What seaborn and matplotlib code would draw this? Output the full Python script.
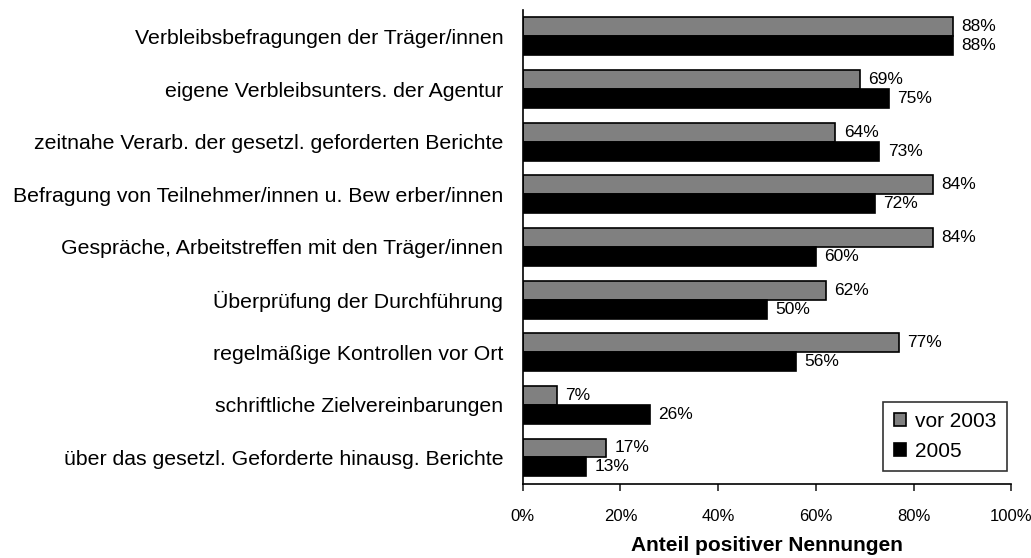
import pandas as pd
import matplotlib.pyplot as plt
import matplotlib.ticker as mticker
import seaborn as sns

# Data
categories = [
    'Verbleibsbefragungen der Träger/innen',
    'eigene Verbleibsunters. der Agentur',
    'zeitnahe Verarb. der gesetzl. geforderten Berichte',
    'Befragung von Teilnehmer/innen u. Bew erber/innen',
    'Gespräche, Arbeitstreffen mit den Träger/innen',
    'Überprüfung der Durchführung',
    'regelmäßige Kontrollen vor Ort',
    'schriftliche Zielvereinbarungen',
    'über das gesetzl. Geforderte hinausg. Berichte',
]
vor_2003 = [88, 69, 64, 84, 84, 62, 77, 7, 17]
jahr_2005 = [88, 75, 73, 72, 60, 50, 56, 26, 13]
series_names = ['vor 2003', '2005']

df = pd.DataFrame({
    'Kategorie': categories * 2,
    'Wert': vor_2003 + jahr_2005,
    'Zeitraum': [series_names[0]] * len(categories) + [series_names[1]] * len(categories),
})

sns.set_style('white')
plt.rcParams['font.family'] = ['Liberation Sans', 'DejaVu Sans']

fig = plt.figure(figsize=(10.31, 5.58), dpi=100)
ax = fig.add_axes([0.507, 0.133, 0.474, 0.849])

sns.barplot(data=df, y='Kategorie', x='Wert', hue='Zeitraum', orient='h',
            palette=['#808080', '#000000'], width=0.72, saturation=1,
            edgecolor='black', linewidth=1.2, ax=ax)

for cont in ax.containers:
    ax.bar_label(cont, fmt='%d%%', padding=6, fontsize=12.5, color='black')

ax.set_xlim(0, 100)
ax.xaxis.set_major_locator(mticker.MultipleLocator(20))
ax.xaxis.set_major_formatter(mticker.FuncFormatter(lambda v, p: f'{v:.0f}%'))
ax.tick_params(axis='x', direction='out', length=5, width=1.2, labelsize=12,
               pad=13, bottom=True, labelcolor='black')
ax.tick_params(axis='y', length=0, labelsize=15.3, pad=14, labelcolor='black')
ax.set_ylabel('')
ax.set_xlabel('Anteil positiver Nennungen', fontsize=15, fontweight='bold',
              labelpad=9, color='black')

for s in ['top', 'right']:
    ax.spines[s].set_visible(False)
for s in ['left', 'bottom']:
    ax.spines[s].set_color('black')
    ax.spines[s].set_linewidth(1.2)

leg = ax.legend(loc='lower right', bbox_to_anchor=(0.99, 0.027), fontsize=15,
                frameon=True, fancybox=False, edgecolor='black',
                handlelength=0.6, handleheight=0.6, handletextpad=0.4,
                labelspacing=0.5, borderpad=0.5, borderaxespad=0)
leg.get_frame().set_linewidth(1.2)
for t in leg.get_texts():
    t.set_color('black')

fig.savefig('out.png', dpi=100)
